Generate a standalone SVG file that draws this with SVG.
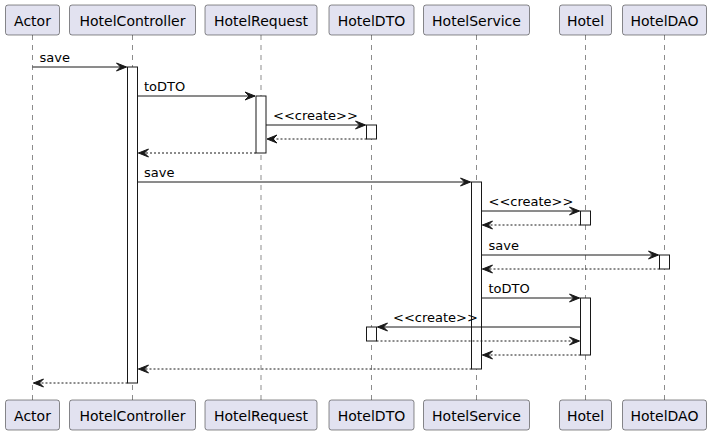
<svg xmlns="http://www.w3.org/2000/svg" width="712" height="435" viewBox="0 0 712 435">
<defs>
<style>
.box{fill:#E2E2F0;stroke:#181818;stroke-width:0.5}
.pt{font-family:"DejaVu Sans",sans-serif;font-size:14px;fill:#000;text-anchor:middle}
.life{stroke:#181818;stroke-width:0.5;stroke-dasharray:5,5;fill:none}
.act{fill:#FFFFFF;stroke:#181818;stroke-width:1}
.msg{stroke:#181818;stroke-width:1;fill:none}
.ret{stroke:#181818;stroke-width:1;stroke-dasharray:2,2;fill:none}
.lbl{font-family:"DejaVu Sans",sans-serif;font-size:13px;fill:#000}
.ah{fill:#181818;stroke:#181818;stroke-width:1}
</style>
</defs>
<rect width="712" height="435" fill="#FFFFFF"/>
<g id="lifelines">
<line class="life" x1="32.5" y1="35" x2="32.5" y2="400"/>
<line class="life" x1="132.5" y1="35" x2="132.5" y2="400"/>
<line class="life" x1="261" y1="35" x2="261" y2="400"/>
<line class="life" x1="371.5" y1="35" x2="371.5" y2="400"/>
<line class="life" x1="476.5" y1="35" x2="476.5" y2="400"/>
<line class="life" x1="585.5" y1="35" x2="585.5" y2="400"/>
<line class="life" x1="664.5" y1="35" x2="664.5" y2="400"/>
</g>
<g id="Actor">
<rect class="box" x="5.5" y="5" width="54" height="30" rx="2.5"/>
<text class="pt" x="32.5" y="26">Actor</text>
<rect class="box" x="5.5" y="400" width="54" height="30" rx="2.5"/>
<text class="pt" x="32.5" y="421">Actor</text>
</g>
<g id="HotelController">
<rect class="box" x="69.5" y="5" width="126" height="30" rx="2.5"/>
<text class="pt" x="132.5" y="26">HotelController</text>
<rect class="box" x="69.5" y="400" width="126" height="30" rx="2.5"/>
<text class="pt" x="132.5" y="421">HotelController</text>
<rect class="act" x="127.5" y="67" width="10" height="316"/>
</g>
<g id="HotelRequest">
<rect class="box" x="205" y="5" width="112" height="30" rx="2.5"/>
<text class="pt" x="261" y="26">HotelRequest</text>
<rect class="box" x="205" y="400" width="112" height="30" rx="2.5"/>
<text class="pt" x="261" y="421">HotelRequest</text>
<rect class="act" x="256" y="96" width="10" height="57"/>
</g>
<g id="HotelDTO">
<rect class="box" x="329" y="5" width="85" height="30" rx="2.5"/>
<text class="pt" x="371.5" y="26">HotelDTO</text>
<rect class="box" x="329" y="400" width="85" height="30" rx="2.5"/>
<text class="pt" x="371.5" y="421">HotelDTO</text>
<rect class="act" x="366.5" y="125" width="10" height="14"/>
<rect class="act" x="366.5" y="327" width="10" height="14"/>
</g>
<g id="HotelService">
<rect class="box" x="423.5" y="5" width="106" height="30" rx="2.5"/>
<text class="pt" x="476.5" y="26">HotelService</text>
<rect class="box" x="423.5" y="400" width="106" height="30" rx="2.5"/>
<text class="pt" x="476.5" y="421">HotelService</text>
<rect class="act" x="471.5" y="182" width="10" height="187"/>
</g>
<g id="Hotel">
<rect class="box" x="559.5" y="5" width="52" height="30" rx="2.5"/>
<text class="pt" x="585.5" y="26">Hotel</text>
<rect class="box" x="559.5" y="400" width="52" height="30" rx="2.5"/>
<text class="pt" x="585.5" y="421">Hotel</text>
<rect class="act" x="580.5" y="211" width="10" height="14"/>
<rect class="act" x="580.5" y="298" width="10" height="57"/>
</g>
<g id="HotelDAO">
<rect class="box" x="622.5" y="5" width="84" height="30" rx="2.5"/>
<text class="pt" x="664.5" y="26">HotelDAO</text>
<rect class="box" x="622.5" y="400" width="84" height="30" rx="2.5"/>
<text class="pt" x="664.5" y="421">HotelDAO</text>
<rect class="act" x="659.5" y="255" width="10" height="14"/>
</g>
<g id="connectors">
<!-- 1 save -->
<line class="msg" x1="32.5" y1="67" x2="126.5" y2="67"/>
<polygon class="ah" points="126.5,67 116.5,63 120.5,67 116.5,71"/>
<text class="lbl" x="39.5" y="62">save</text>
<!-- 2 toDTO -->
<line class="msg" x1="137.5" y1="96" x2="255" y2="96"/>
<polygon class="ah" points="255,96 245,92 249,96 245,100"/>
<text class="lbl" x="144" y="91">toDTO</text>
<!-- 3 create -->
<line class="msg" x1="266" y1="125" x2="365.5" y2="125"/>
<polygon class="ah" points="365.5,125 355.5,121 359.5,125 355.5,129"/>
<text class="lbl" x="273" y="120">&lt;&lt;create&gt;&gt;</text>
<line class="ret" x1="366.5" y1="139" x2="267" y2="139"/>
<polygon class="ah" points="267,139 277,135 273,139 277,143"/>
<line class="ret" x1="256" y1="153" x2="138.5" y2="153"/>
<polygon class="ah" points="138.5,153 148.5,149 144.5,153 148.5,157"/>
<!-- save to service -->
<line class="msg" x1="137.5" y1="182" x2="470.5" y2="182"/>
<polygon class="ah" points="470.5,182 460.5,178 464.5,182 460.5,186"/>
<text class="lbl" x="144" y="177">save</text>
<!-- create hotel -->
<line class="msg" x1="481.5" y1="211" x2="579.5" y2="211"/>
<polygon class="ah" points="579.5,211 569.5,207 573.5,211 569.5,215"/>
<text class="lbl" x="488.5" y="206">&lt;&lt;create&gt;&gt;</text>
<line class="ret" x1="580.5" y1="225" x2="482.5" y2="225"/>
<polygon class="ah" points="482.5,225 492.5,221 488.5,225 492.5,229"/>
<!-- save DAO -->
<line class="msg" x1="481.5" y1="255" x2="658.5" y2="255"/>
<polygon class="ah" points="658.5,255 648.5,251 652.5,255 648.5,259"/>
<text class="lbl" x="488.5" y="250">save</text>
<line class="ret" x1="659.5" y1="269" x2="482.5" y2="269"/>
<polygon class="ah" points="482.5,269 492.5,265 488.5,269 492.5,273"/>
<!-- toDTO hotel -->
<line class="msg" x1="481.5" y1="298" x2="579.5" y2="298"/>
<polygon class="ah" points="579.5,298 569.5,294 573.5,298 569.5,302"/>
<text class="lbl" x="488.5" y="293">toDTO</text>
<!-- create DTO -->
<line class="msg" x1="580.5" y1="327" x2="377.5" y2="327"/>
<polygon class="ah" points="377.5,327 387.5,323 383.5,327 387.5,331"/>
<text class="lbl" x="393" y="322">&lt;&lt;create&gt;&gt;</text>
<line class="ret" x1="376.5" y1="341" x2="579.5" y2="341"/>
<polygon class="ah" points="579.5,341 569.5,337 573.5,341 569.5,345"/>
<line class="ret" x1="580.5" y1="355" x2="482.5" y2="355"/>
<polygon class="ah" points="482.5,355 492.5,351 488.5,355 492.5,359"/>
<line class="ret" x1="471.5" y1="369" x2="138.5" y2="369"/>
<polygon class="ah" points="138.5,369 148.5,365 144.5,369 148.5,373"/>
<line class="ret" x1="127.5" y1="383" x2="33.5" y2="383"/>
<polygon class="ah" points="33.5,383 43.5,379 39.5,383 43.5,387"/>
</g>
</svg>
